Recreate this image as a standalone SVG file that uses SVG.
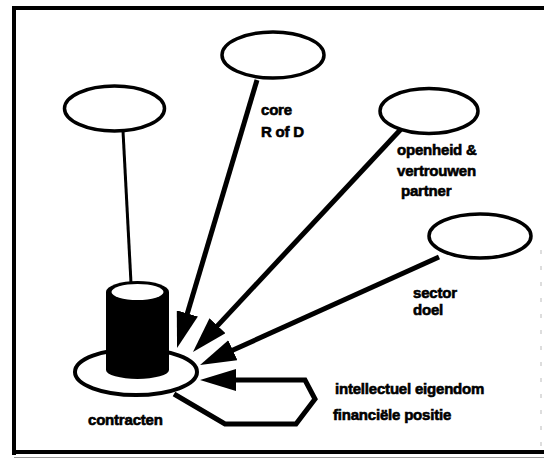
<svg xmlns="http://www.w3.org/2000/svg" width="544" height="459" viewBox="0 0 544 459">
  <style>
    .frame { stroke: #000; stroke-width: 4; fill: none; }
    .node { fill: #fff; stroke: #000; stroke-width: 3.5; }
    .link { stroke: #000; stroke-width: 5; fill: none; }
    .thin { stroke: #000; stroke-width: 3; fill: none; }
    .label { font-family: "Liberation Sans", Arial, Helvetica, sans-serif; font-weight: bold; font-size: 15px; fill: #000; stroke: #000; stroke-width: 0.6; letter-spacing: -0.2px; }
  </style>
  <defs>
    <marker id="head" viewBox="0 0 36 22" markerUnits="userSpaceOnUse" markerWidth="36" markerHeight="22" refX="4" refY="11" orient="auto">
      <path d="M0,0 L36,11 L0,22 z" fill="#000"/>
    </marker>
  </defs>

  <rect width="544" height="459" fill="#fff"/>

  <!-- frame -->
  <g id="frame">
    <line class="frame" x1="12" y1="8" x2="544" y2="8"/>
    <line class="frame" x1="14" y1="6" x2="14" y2="455"/>
    <line class="frame" x1="12" y1="452" x2="544" y2="452"/>
    <line x1="14" y1="457.5" x2="544" y2="457.5" stroke="#999" stroke-width="1"/>
    <line x1="541" y1="250" x2="541" y2="448" stroke="#bbb" stroke-width="1" stroke-dasharray="4 12"/>
  </g>

  <!-- connectors -->
  <g id="connectors">
    <line class="thin" x1="123" y1="131" x2="131" y2="283"/>
    <line class="link" x1="257" y1="80" x2="186.2" y2="317.3" marker-end="url(#head)"/>
    <line class="link" x1="402" y1="128" x2="214.8" y2="328.6" marker-end="url(#head)"/>
    <line class="link" x1="439" y1="257" x2="229.2" y2="351.8" marker-end="url(#head)"/>
    <path class="link" stroke-width="4" stroke-linejoin="miter" d="M174,394 L225,424 L296,424 L315,399 L305,380 L232,380" marker-end="url(#head)"/>
  </g>

  <!-- contracten: base with cylinder -->
  <g id="contracten">
    <ellipse cx="136" cy="372" rx="61" ry="23" fill="#fff" stroke="#000" stroke-width="4"/>
    <path d="M106,292 L106,370 A31.5,9 0 0 0 169,370 L169,292 z" fill="#000"/>
    <ellipse cx="137.5" cy="292" rx="31.5" ry="11" fill="#000"/>
    <ellipse cx="137.5" cy="292" rx="26" ry="8" fill="#fff"/>
    <text class="label" x="88" y="425">contracten</text>
  </g>

  <g id="node-left">
    <ellipse class="node" cx="114.5" cy="108.5" rx="50" ry="22.5"/>
  </g>

  <g id="node-core">
    <ellipse class="node" cx="273" cy="55" rx="51" ry="23"/>
    <text class="label" x="261" y="115">core</text>
    <text class="label" x="261" y="137">R of D</text>
  </g>

  <g id="node-openheid">
    <ellipse class="node" cx="429" cy="111" rx="49" ry="22.5"/>
    <text class="label" x="397" y="155">openheid &amp;</text>
    <text class="label" x="397" y="176">vertrouwen</text>
    <text class="label" x="401" y="196">partner</text>
  </g>

  <g id="node-sector">
    <ellipse class="node" cx="480" cy="236" rx="51" ry="22"/>
    <text class="label" x="413" y="298">sector</text>
    <text class="label" x="413" y="315">doel</text>
  </g>

  <g id="node-eigendom">
    <text class="label" x="335" y="394">intellectuel eigendom</text>
    <text class="label" x="333" y="420">financiële positie</text>
  </g>
</svg>
